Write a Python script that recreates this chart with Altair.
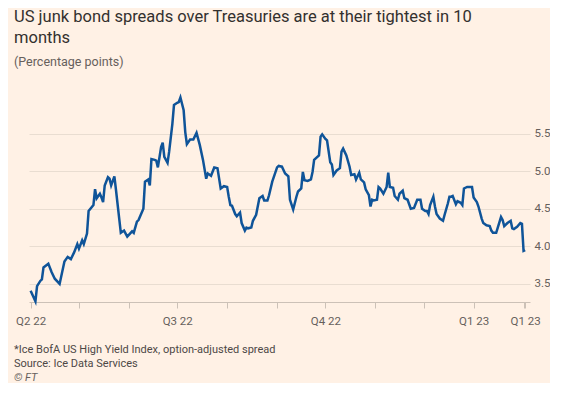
import altair as alt
import pandas as pd

dates = [
    "2022-04-01", "2022-04-04", "2022-04-05", "2022-04-07", "2022-04-08", "2022-04-09",
    "2022-04-12", "2022-04-14", "2022-04-16", "2022-04-19", "2022-04-22", "2022-04-24",
    "2022-04-26", "2022-04-28", "2022-04-30", "2022-05-01", "2022-05-03", "2022-05-04",
    "2022-05-06", "2022-05-07", "2022-05-10", "2022-05-11", "2022-05-12", "2022-05-14",
    "2022-05-15", "2022-05-16", "2022-05-17", "2022-05-19", "2022-05-20", "2022-05-21",
    "2022-05-23", "2022-05-24", "2022-05-26", "2022-05-27", "2022-05-29", "2022-05-31",
    "2022-06-03", "2022-06-04", "2022-06-06", "2022-06-07", "2022-06-10", "2022-06-11",
    "2022-06-13", "2022-06-14", "2022-06-15", "2022-06-17", "2022-06-18", "2022-06-19",
    "2022-06-21", "2022-06-22", "2022-06-23", "2022-06-25", "2022-06-26", "2022-06-28",
    "2022-06-29", "2022-07-01", "2022-07-02", "2022-07-03", "2022-07-05", "2022-07-06",
    "2022-07-07", "2022-07-09", "2022-07-11", "2022-07-13", "2022-07-15", "2022-07-17",
    "2022-07-19", "2022-07-20", "2022-07-22", "2022-07-24", "2022-07-26", "2022-07-28",
    "2022-07-30", "2022-08-01", "2022-08-02", "2022-08-03", "2022-08-04", "2022-08-06",
    "2022-08-07", "2022-08-09", "2022-08-10", "2022-08-12", "2022-08-13", "2022-08-14",
    "2022-08-16", "2022-08-17", "2022-08-19", "2022-08-21", "2022-08-23", "2022-08-24",
    "2022-08-26", "2022-08-27", "2022-08-29", "2022-09-01", "2022-09-02", "2022-09-04",
    "2022-09-06", "2022-09-08", "2022-09-09", "2022-09-11", "2022-09-13", "2022-09-14",
    "2022-09-16", "2022-09-17", "2022-09-18", "2022-09-20", "2022-09-22", "2022-09-23",
    "2022-09-24", "2022-09-27", "2022-09-28", "2022-09-29", "2022-10-01", "2022-10-02",
    "2022-10-04", "2022-10-05", "2022-10-06", "2022-10-08", "2022-10-10", "2022-10-11",
    "2022-10-12", "2022-10-14", "2022-10-16", "2022-10-17", "2022-10-19", "2022-10-20",
    "2022-10-22", "2022-10-23", "2022-10-25", "2022-10-26", "2022-10-28", "2022-10-29",
    "2022-10-30", "2022-10-31", "2022-11-02", "2022-11-03", "2022-11-04", "2022-11-06",
    "2022-11-08", "2022-11-09", "2022-11-10", "2022-11-12", "2022-11-13", "2022-11-15",
    "2022-11-16", "2022-11-18", "2022-11-19", "2022-11-21", "2022-11-22", "2022-11-23",
    "2022-11-25", "2022-11-27", "2022-11-29", "2022-11-30", "2022-12-02", "2022-12-03",
    "2022-12-04", "2022-12-05", "2022-12-07", "2022-12-08", "2022-12-09", "2022-12-11",
    "2022-12-13", "2022-12-14", "2022-12-16", "2022-12-17", "2022-12-18", "2022-12-19",
    "2022-12-21", "2022-12-22", "2022-12-24", "2022-12-25", "2022-12-26", "2022-12-28",
    "2022-12-29", "2022-12-31", "2023-01-01", "2023-01-03", "2023-01-04", "2023-01-06",
    "2023-01-07", "2023-01-09", "2023-01-11", "2023-01-12", "2023-01-13", "2023-01-15",
    "2023-01-16", "2023-01-18", "2023-01-19", "2023-01-20", "2023-01-22", "2023-01-24",
    "2023-01-25", "2023-01-26", "2023-01-28", "2023-01-30", "2023-01-31", "2023-02-01",
    "2023-02-02",
]

spreads = [
    3.41, 3.27, 3.47, 3.54, 3.56, 3.72,
    3.77, 3.66, 3.57, 3.50, 3.80, 3.86,
    3.83, 3.92, 4.03, 3.97, 4.08, 4.03,
    4.17, 4.47, 4.55, 4.76, 4.64, 4.70,
    4.65, 4.59, 4.81, 4.92, 4.90, 4.81,
    4.93, 4.75, 4.37, 4.18, 4.21, 4.13,
    4.20, 4.18, 4.33, 4.35, 4.50, 4.86,
    4.89, 4.81, 5.16, 5.15, 5.14, 5.05,
    5.32, 5.38, 5.19, 5.11, 5.26, 5.63,
    5.88, 5.91, 5.92, 5.98, 5.81, 5.52,
    5.36, 5.42, 5.42, 5.51, 5.35, 5.15,
    4.90, 4.97, 4.94, 5.05, 5.04, 4.77,
    4.80, 4.79, 4.66, 4.55, 4.54, 4.43,
    4.40, 4.45, 4.31, 4.21, 4.25, 4.24,
    4.25, 4.34, 4.42, 4.64, 4.67, 4.61,
    4.61, 4.68, 4.86, 5.05, 5.07, 5.06,
    4.97, 4.93, 4.62, 4.49, 4.66, 4.73,
    4.77, 4.99, 4.88, 4.87, 4.89, 4.99,
    5.15, 5.21, 5.46, 5.49, 5.43, 5.41,
    5.12, 5.09, 4.95, 5.01, 5.04, 5.26,
    5.30, 5.21, 5.06, 4.95, 4.96, 4.89,
    4.98, 4.89, 4.85, 4.76, 4.68, 4.53,
    4.62, 4.61, 4.62, 4.79, 4.77, 4.70,
    4.79, 4.98, 4.79, 4.78, 4.67, 4.62,
    4.70, 4.74, 4.64, 4.62, 4.56, 4.50,
    4.51, 4.62, 4.62, 4.50, 4.47, 4.47,
    4.43, 4.55, 4.66, 4.53, 4.43, 4.37,
    4.34, 4.42, 4.57, 4.66, 4.66, 4.67,
    4.56, 4.60, 4.58, 4.55, 4.77, 4.79,
    4.79, 4.79, 4.65, 4.59, 4.53, 4.37,
    4.31, 4.28, 4.27, 4.21, 4.18, 4.18,
    4.25, 4.39, 4.35, 4.27, 4.31, 4.34,
    4.24, 4.23, 4.26, 4.31, 4.30, 3.94,
    3.95,
]

y_ticks = [3.5, 4.0, 4.5, 5.0, 5.5]
title_lines = ["US junk bond spreads over Treasuries are at their tightest in 10", "months"]
subtitle = "(Percentage points)"
note_1 = "*Ice BofA US High Yield Index, option-adjusted spread"
note_2 = "Source: Ice Data Services"
credit = "\u00a9 FT"

FONT = "Roboto"
W, H = 501, 206

df = pd.DataFrame({"date": dates, "spread": spreads})


def utc(y, m, d):
    return alt.DateTime(year=y, month=m, date=d, utc=True)


x_ticks = [utc(2022, m, 1) for m in range(4, 13)] + [utc(2023, 1, 1), utc(2023, 2, 1), utc(2023, 2, 2)]

label_expr = (
    "(utcdate(datum.value) != 1 || utcmonth(datum.value) % 3 == 0) ? "
    "'Q' + utcquarter(datum.value) + ' ' + utcFormat(datum.value, '%y') : ''"
)

line = alt.Chart(df).mark_line(color="#0f5499", strokeWidth=2.5).encode(
    x=alt.X(
        "date:T",
        title=None,
        scale=alt.Scale(type="utc", domain=[utc(2022, 3, 31), utc(2023, 2, 5)]),
        axis=alt.Axis(
            values=x_ticks,
            labelExpr=label_expr,
            grid=False,
            domainColor="#CCC1B7",
            tickColor="#CCC1B7",
            tickSize=6,
            labelPadding=7,
            labelColor="#66605C",
            labelFontSize=11.5,
            labelFont=FONT,
            labelOverlap=False,
            labelFlush=False,
        ),
    ),
    y=alt.Y(
        "spread:Q",
        title=None,
        scale=alt.Scale(domain=[3.26, 6.0], nice=False, zero=False),
        axis=alt.Axis(
            orient="right",
            values=y_ticks,
            format=".1f",
            domain=False,
            ticks=False,
            gridColor="#E9DDD1",
            labelPadding=4,
            labelColor="#66605C",
            labelFontSize=11.5,
            labelFont=FONT,
        ),
    ),
)


def note(text, y, italic=False, color="#4D4845"):
    return alt.Chart(pd.DataFrame({"t": [text]})).mark_text(
        align="left",
        baseline="alphabetic",
        font=FONT,
        fontSize=11,
        fontStyle="italic" if italic else "normal",
        color=color,
    ).encode(x=alt.value(-15), y=alt.value(y), text="t:N")


chart = (
    alt.layer(
        line,
        note(note_1, H + 51.3),
        note(note_2, H + 64.7),
        note(credit, H + 78.7, italic=True, color="#66605C"),
    )
    .properties(
        width=W,
        height=H,
        background="#FFF1E5",
        padding={"left": 6, "top": 0, "right": 0, "bottom": 0},
        title=alt.TitleParams(
            text=title_lines,
            subtitle=subtitle,
            anchor="start",
            frame="group",
            dx=-15,
            font=FONT,
            fontSize=16.5,
            fontWeight="normal",
            color="#33302E",
            lineHeight=21,
            subtitleFont=FONT,
            subtitleFontSize=12.5,
            subtitleColor="#66605C",
            subtitlePadding=9.5,
            offset=24.5,
        ),
    )
    .configure_view(stroke=None)
)

chart.save("out.html", embed_options={"renderer": "svg", "actions": False})
